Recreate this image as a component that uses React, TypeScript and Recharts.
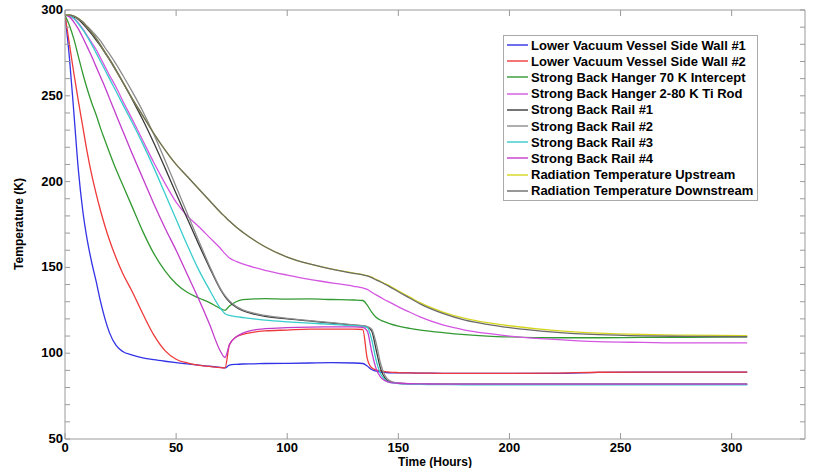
import React from 'react'
import { LineChart, Line, XAxis, YAxis, Legend, Label } from 'recharts'

// hours
const times = [0, 2, 4, 6, 8, 10, 12, 14, 16, 18, 20, 23, 26, 30, 35, 40, 45, 50, 55, 60, 65, 70, 72, 74, 77, 80, 85, 90, 100, 110, 120, 130, 134, 136, 138, 140, 142, 144, 146, 150, 155, 160, 170, 180, 190, 200, 220, 240, 260, 280, 307]

// temperatures (K), one value per time above
const lvvWall1 = [297, 272, 240, 207, 183, 166, 153, 142, 130, 120, 112, 104.5, 101, 99, 97.3, 96.2, 95.3, 94.5, 93.8, 93, 92.4, 91.7, 91.4, 93, 93.5, 93.7, 93.8, 94, 94.1, 94.3, 94.5, 94.3, 94, 92.5, 90.5, 89.5, 89, 88.8, 88.6, 88.5, 88.5, 88.4, 88.3, 88.3, 88.3, 88.3, 88.3, 88.8, 89, 89, 89]
const lvvWall2 = [297, 280, 263, 247, 232, 217, 204, 193, 183, 174, 166, 155.5, 146.5, 136.5, 123, 110.5, 101.5, 96.5, 94.3, 93, 92.3, 91.6, 91.4, 105, 109.5, 111, 112.3, 113, 113.5, 114, 114, 114, 113.8, 97, 91.5, 90.3, 89.7, 89.3, 89, 88.7, 88.5, 88.4, 88.3, 88.3, 88.3, 88.3, 88.4, 88.9, 89, 89, 89]
const hanger70K = [297, 291, 283, 273, 263, 254, 246, 239, 231, 224, 217, 207, 198, 186, 171, 158, 148, 140.5, 135.5, 132.3, 129.5, 126, 125, 127.5, 130, 131.2, 131.6, 131.8, 131.5, 131.6, 131.3, 131, 130.7, 128, 124, 121, 119.3, 118.2, 117.3, 115.8, 114.5, 113.5, 112, 110.8, 110, 109.5, 109, 109, 109.2, 109.3, 109.5]
const hangerTiRod = [297, 296.5, 295, 292.5, 289, 285, 281, 277, 272, 267, 262, 255, 247, 237, 224, 211, 199, 188, 180, 174, 167.5, 161, 158, 155.5, 153.5, 152, 150, 148.3, 145.5, 143, 141, 139, 138, 137.2, 135.5, 134, 132.5, 131, 129.8, 127, 124, 121, 116.5, 113.5, 111.5, 110, 108, 106.7, 106.3, 106, 106]
const rail1 = [297, 297, 296, 294.5, 292, 289, 286, 282.5, 279, 275, 271, 264.5, 258, 248.5, 236, 222.5, 208, 193, 178.5, 164, 150, 137, 133, 130, 126.8, 124.8, 122.8, 121.5, 120, 118.8, 117.5, 116.3, 115.8, 115.3, 113, 102, 91, 85.5, 83.5, 82.5, 82.2, 82, 82, 82, 82, 82, 82, 82, 82, 82, 82]
const rail2 = [297, 297, 296.5, 295, 293, 290.5, 288, 285, 282, 278, 274.5, 268.5, 262, 253, 241, 227.5, 212.5, 197, 181.5, 166, 151, 137.5, 133.5, 130.5, 127.3, 125.3, 123.3, 122, 120.3, 119, 117.8, 116.5, 116, 115.5, 114, 106, 94, 87, 84, 82.6, 82.2, 82, 81.9, 81.9, 81.9, 81.8, 81.8, 81.8, 81.8, 81.8, 81.8]
const rail3 = [297, 296.5, 295, 292, 288.5, 284.5, 280, 275, 270, 265, 260, 252.5, 245, 235, 222, 208, 193, 178, 163, 149, 137, 126, 123, 122, 121.3, 120.8, 120, 119.3, 118.3, 117.5, 116.8, 116, 115.6, 115, 108, 96, 88, 84.5, 83, 82.3, 82, 81.8, 81.7, 81.6, 81.6, 81.6, 81.6, 81.6, 81.6, 81.6, 81.6]
const rail4 = [297, 296, 293, 289, 284, 278.5, 273, 267, 261, 255, 248.5, 239, 229.5, 217, 202, 187, 173, 160, 146, 132, 117, 101, 97.5, 105, 109.5, 111.7, 113.5, 114.3, 114.9, 115.2, 115.3, 115.3, 115, 113, 101, 91, 86, 84, 83, 82.5, 82.2, 82.1, 82, 82, 82, 82, 82, 82, 82, 82, 82]
const radUp = [297, 297, 296.5, 295, 293, 290, 287, 283.5, 279.5, 275.5, 271.5, 265, 258, 249, 238.5, 228, 218.5, 210, 203, 196, 189, 182, 179.5, 177, 173.5, 170.5, 166, 162, 156, 152, 149, 146.7, 145.8, 145.2, 144.3, 143, 141.8, 140.5, 139.2, 136.3, 132.8, 129.3, 124, 120.3, 117.8, 116, 113.3, 111.7, 110.9, 110.5, 110.3]
const radDown = [297, 297, 296.5, 295, 293, 290, 287, 283.5, 279.5, 275.5, 271.5, 265, 258, 249, 238.5, 228, 218.5, 210, 203, 196, 189, 182, 179.5, 177, 173.5, 170.5, 166, 162, 156, 152, 149, 146.5, 145.6, 145, 144, 142.7, 141.5, 140.2, 138.8, 135.8, 132.2, 128.6, 123.2, 119.3, 116.8, 114.9, 112.3, 110.8, 110.1, 109.8, 109.6]

const xTicks = [0, 50, 100, 150, 200, 250, 300]
const yTicks = [50, 60, 70, 80, 90, 100, 110, 120, 130, 140, 150, 160, 170, 180, 190, 200, 210, 220, 230, 240, 250, 260, 270, 280, 290, 300]

const series = [
  { key: 'lvv1', name: 'Lower Vacuum Vessel Side Wall #1', color: '#3232e6', values: lvvWall1 },
  { key: 'lvv2', name: 'Lower Vacuum Vessel Side Wall #2', color: '#ee3a3a', values: lvvWall2 },
  { key: 'h70', name: 'Strong Back Hanger 70 K Intercept', color: '#339a33', values: hanger70K },
  { key: 'hti', name: 'Strong Back Hanger 2-80 K Ti Rod', color: '#d456e2', values: hangerTiRod },
  { key: 'r1', name: 'Strong Back Rail #1', color: '#3a3a3a', values: rail1 },
  { key: 'r2', name: 'Strong Back Rail #2', color: '#8c8c8c', values: rail2 },
  { key: 'r3', name: 'Strong Back Rail #3', color: '#38cccc', values: rail3 },
  { key: 'r4', name: 'Strong Back Rail #4', color: '#c23ccc', values: rail4 },
  { key: 'radU', name: 'Radiation Temperature Upstream', color: '#d6d620', values: radUp },
  { key: 'radD', name: 'Radiation Temperature Downstream', color: '#6a6a6a', values: radDown },
]

const data = times.map((t, i) => {
  const row: Record<string, number> = { t }
  series.forEach(s => { row[s.key] = s.values[i] })
  return row
})

const FONT = '"Liberation Sans", Arial, sans-serif'
const AXIS = '#9a9a9a'

const YTick = (props: any) => {
  const { x, y, payload } = props
  if (payload.value % 50 !== 0) return <g />
  return (
    <text x={x} y={y} dy={4} textAnchor="end" fontSize={13} fontWeight="bold" fill="#000" fontFamily={FONT}>
      {payload.value}
    </text>
  )
}

const NoTick = () => <g />

const LegendBox = () => (
  <div style={{ border: '1px solid #aaa', background: '#fff', padding: '1px 4px 1px 3px', fontFamily: FONT }}>
    {series.map(s => (
      <div key={s.key} style={{ display: 'flex', alignItems: 'center', height: 16.2 }}>
        <svg width={21} height={4} style={{ marginRight: 3 }}>
          <line x1={0} y1={2} x2={21} y2={2} stroke={s.color} strokeWidth={1.4} />
        </svg>
        <span style={{ fontSize: 13, fontWeight: 'bold', color: '#000', whiteSpace: 'nowrap' }}>{s.name}</span>
      </div>
    ))}
  </div>
)

export default function App() {
  return (
    <div style={{ position: 'absolute', left: 0, top: 0, width: 817, height: 468, background: '#fff' }}>
      <LineChart width={817} height={468} data={data} margin={{ top: 9, right: 11, left: 0, bottom: 0 }} style={{ fontFamily: FONT }}>
        <XAxis
          dataKey="t"
          type="number"
          domain={[0, 333]}
          ticks={xTicks}
          allowDataOverflow
          height={29}
          stroke={AXIS}
          tickSize={-6}
          tickMargin={10}
          tick={{ fontSize: 13, fontWeight: 'bold', fill: '#000' }}
        >
          <Label value="Time (Hours)" position="insideBottom" offset={2} style={{ fontSize: 12, fontWeight: 'bold', fill: '#000' }} />
        </XAxis>
        <XAxis xAxisId="top" orientation="top" dataKey="t" type="number" domain={[0, 333]} ticks={xTicks} allowDataOverflow height={1} stroke={AXIS} tickSize={-6} tick={NoTick} />
        <YAxis
          type="number"
          domain={[50, 300]}
          ticks={yTicks}
          allowDataOverflow
          width={65}
          stroke={AXIS}
          tickSize={-5}
          tickMargin={7}
          tick={YTick}
          interval={0}
        >
          <Label
            content={() => (
              <text transform="translate(23,224) rotate(-90)" textAnchor="middle" fontSize={12} fontWeight="bold" fill="#000" fontFamily={FONT}>
                Temperature (K)
              </text>
            )}
          />
        </YAxis>
        <YAxis yAxisId="right" orientation="right" type="number" domain={[50, 300]} ticks={yTicks} allowDataOverflow width={1} stroke={AXIS} tickSize={-5} tick={NoTick} interval={0} />
        <Legend layout="vertical" align="center" verticalAlign="middle" content={LegendBox} wrapperStyle={{ left: 503, top: 35, width: 'auto', height: 'auto' }} />
        {series.map(s => (
          <Line
            key={s.key}
            dataKey={s.key}
            name={s.name}
            type="monotone"
            stroke={s.color}
            strokeWidth={1.3}
            dot={false}
            activeDot={false}
            isAnimationActive={false}
          />
        ))}
      </LineChart>
    </div>
  )
}
